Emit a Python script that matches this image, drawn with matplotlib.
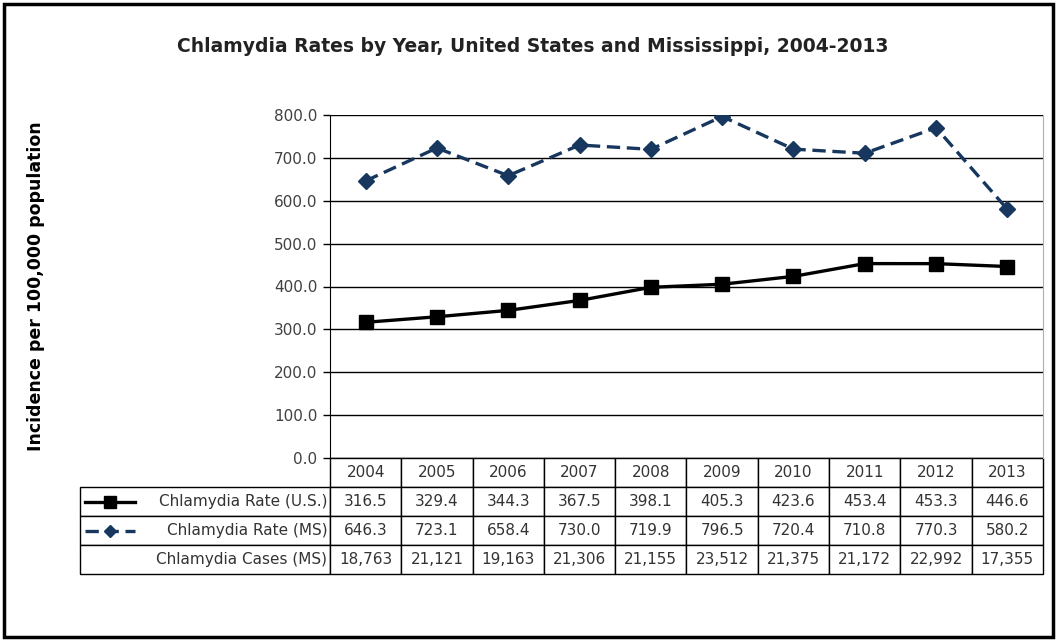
import matplotlib.pyplot as plt
from matplotlib.lines import Line2D
from matplotlib.patches import Rectangle

plt.rcParams['font.family'] = ['DejaVu Sans']

years = ['2004', '2005', '2006', '2007', '2008', '2009', '2010', '2011', '2012', '2013']
rate_us = [316.5, 329.4, 344.3, 367.5, 398.1, 405.3, 423.6, 453.4, 453.3, 446.6]
rate_ms = [646.3, 723.1, 658.4, 730.0, 719.9, 796.5, 720.4, 710.8, 770.3, 580.2]
cases_ms = [18763, 21121, 19163, 21306, 21155, 23512, 21375, 21172, 22992, 17355]
row_names = ['Chlamydia Rate (U.S.)', 'Chlamydia Rate (MS)', 'Chlamydia Cases (MS)']

navy = '#17375E'
dash = (0, (4, 2))
W, H = 1057, 640
fig = plt.figure(figsize=(W / 100, H / 100), dpi=100)

# plot area in pixels: x 330..1043, y 115..458
ax = fig.add_axes([330 / W, (H - 458) / H, 713 / W, 343 / H])
x = list(range(len(years)))
ax.plot(x, rate_us, color='black', lw=2.4, marker='s', ms=10, zorder=3)
ax.plot(x, rate_ms, color=navy, lw=2.4, ls=dash, marker='D', ms=8, zorder=3)
ax.set_xlim(-0.5, len(years) - 0.5)
ax.set_ylim(0, 800)
ax.set_yticks(range(0, 801, 100))
ax.set_yticklabels([f'{v:.1f}' for v in range(0, 801, 100)], fontsize=11, color='#404040')
ax.set_xticks([])
ax.grid(axis='y', color='black', lw=1)
ax.tick_params(axis='y', length=5, width=1, color='black', pad=4)
for s in ['top', 'bottom']:
    ax.spines[s].set_visible(False)
ax.spines['left'].set_color('black')
ax.spines['right'].set_color('#b0b0b0')
ax.set_ylabel('Incidence per 100,000 population', fontsize=12.5, fontweight='bold',
              labelpad=0)
ax.yaxis.set_label_coords(-285 / 713, 0.5)

# data table under the plot
cell_text = [[''] + years,
             [row_names[0]] + [f'{v:.1f}' for v in rate_us],
             [row_names[1]] + [f'{v:.1f}' for v in rate_ms],
             [row_names[2]] + [f'{v:,}' for v in cases_ms]]
first_w = 250 / 713
col_w = 0.1
tbl = ax.table(cellText=cell_text, cellLoc='center',
               bbox=[-first_w, -116 / 343, first_w + 1, 116 / 343])
tbl.auto_set_font_size(False)
tbl.set_fontsize(11)
for (r, c), cell in tbl.get_celld().items():
    cell.set_width(first_w if c == 0 else col_w)
    cell.set_edgecolor('black')
    cell.set_linewidth(1)
    cell.get_text().set_color('#333333')
    if c == 0:
        cell.get_text().set_ha('right')
        cell._loc = 'right'
        cell.PAD = 0.01
tbl[0, 0].visible_edges = ''

# legend keys inside the table row labels
row_h = 116 / 343 / 4
kx0, kx1 = -245 / 713, -195 / 713
for i, (col, mk, ls, ms) in enumerate([('black', 's', '-', 8), (navy, 'D', dash, 6)]):
    yk = -row_h * (1.5 + i)
    ax.add_line(Line2D([kx0, kx1], [yk, yk], transform=ax.transAxes, color=col, lw=2.4,
                       ls=ls, clip_on=False))
    ax.add_line(Line2D([(kx0 + kx1) / 2], [yk], transform=ax.transAxes, color=col,
                       marker=mk, ms=ms, clip_on=False))

fig.text(533 / W, 1 - 47 / H, 'Chlamydia Rates by Year, United States and Mississippi, 2004-2013',
         ha='center', va='center', fontsize=13.5, fontweight='bold', color='#222222')

fig.patches.append(Rectangle((4 / W, 3 / H), 1049 / W, 633 / H, transform=fig.transFigure,
                             fill=False, edgecolor='black', lw=2.5))

fig.savefig('out.png', dpi=100)
